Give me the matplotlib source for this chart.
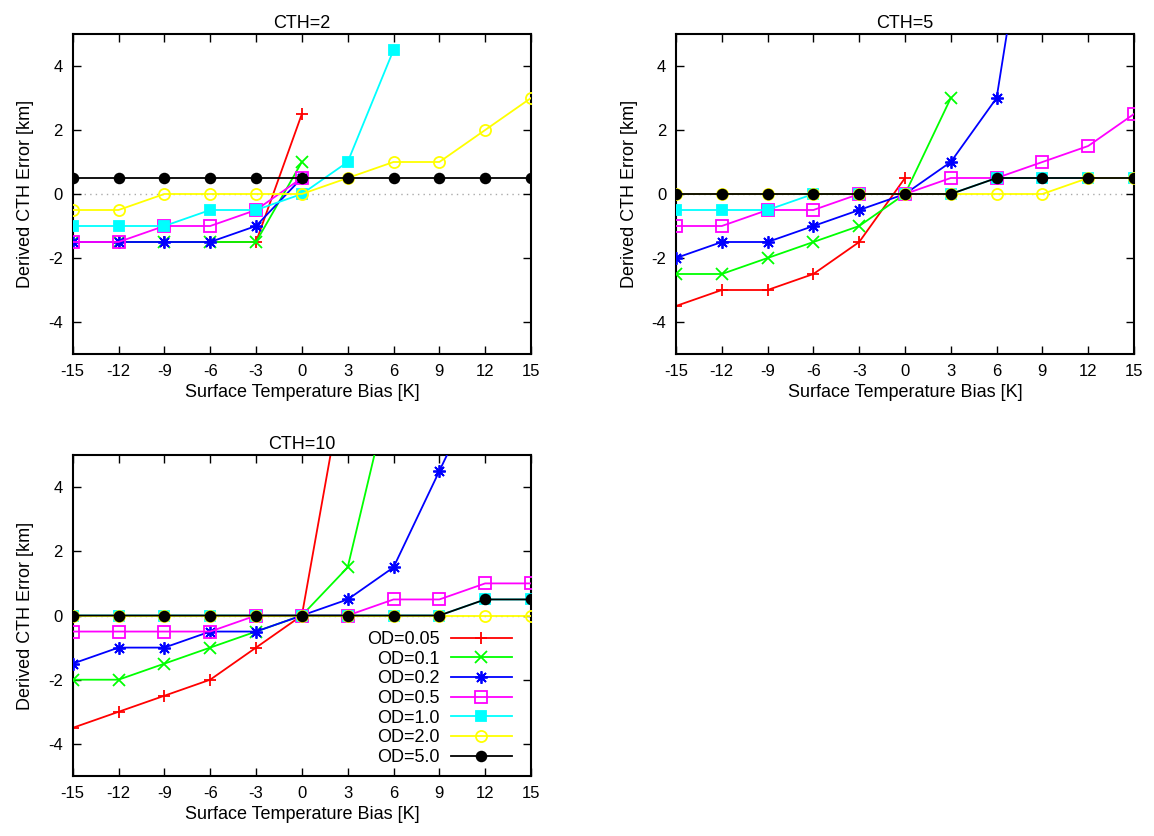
import numpy as np
import matplotlib
matplotlib.use("Agg")
import matplotlib.pyplot as plt

plt.rcParams['font.family'] = ['Liberation Sans', 'DejaVu Sans']
plt.rcParams['axes.unicode_minus'] = False

# ============================================
# DATA
# ============================================

bias = [-15, -12, -9, -6, -3, 0, 3, 6, 9, 12, 15]
xticks = [-15, -12, -9, -6, -3, 0, 3, 6, 9, 12, 15]
yticks = [-4, -2, 0, 2, 4]
labels = ['OD=0.05', 'OD=0.1', 'OD=0.2', 'OD=0.5', 'OD=1.0', 'OD=2.0', 'OD=5.0']
nan = np.nan

# CTH=2
cth2 = [
    [-1.5, -1.5, -1.5, -1.5, -1.5, 2.5, nan, nan, nan, nan, nan],
    [-1.5, -1.5, -1.5, -1.5, -1.5, 1.0, nan, nan, nan, nan, nan],
    [-1.5, -1.5, -1.5, -1.5, -1.0, 0.5, nan, nan, nan, nan, nan],
    [-1.5, -1.5, -1.0, -1.0, -0.5, 0.5, nan, nan, nan, nan, nan],
    [-1.0, -1.0, -1.0, -0.5, -0.5, 0.0, 1.0, 4.5, nan, nan, nan],
    [-0.5, -0.5, 0.0, 0.0, 0.0, 0.0, 0.5, 1.0, 1.0, 2.0, 3.0],
    [0.5, 0.5, 0.5, 0.5, 0.5, 0.5, 0.5, 0.5, 0.5, 0.5, 0.5],
]

# CTH=5
cth5 = [
    [-3.5, -3.0, -3.0, -2.5, -1.5, 0.5, nan, nan, nan, nan, nan],
    [-2.5, -2.5, -2.0, -1.5, -1.0, 0.0, 3.0, nan, nan, nan, nan],
    [-2.0, -1.5, -1.5, -1.0, -0.5, 0.0, 1.0, 3.0, 12.0, nan, nan],
    [-1.0, -1.0, -0.5, -0.5, 0.0, 0.0, 0.5, 0.5, 1.0, 1.5, 2.5],
    [-0.5, -0.5, -0.5, 0.0, 0.0, 0.0, 0.0, 0.5, 0.5, 0.5, 0.5],
    [0.0, 0.0, 0.0, 0.0, 0.0, 0.0, 0.0, 0.0, 0.0, 0.5, 0.5],
    [0.0, 0.0, 0.0, 0.0, 0.0, 0.0, 0.0, 0.5, 0.5, 0.5, 0.5],
]

# CTH=10
cth10 = [
    [-3.5, -3.0, -2.5, -2.0, -1.0, 0.0, 8.0, nan, nan, nan, nan],
    [-2.0, -2.0, -1.5, -1.0, -0.5, 0.0, 1.5, 7.5, nan, nan, nan],
    [-1.5, -1.0, -1.0, -0.5, -0.5, 0.0, 0.5, 1.5, 4.5, 7.5, nan],
    [-0.5, -0.5, -0.5, -0.5, 0.0, 0.0, 0.0, 0.5, 0.5, 1.0, 1.0],
    [0.0, 0.0, 0.0, 0.0, 0.0, 0.0, 0.0, 0.0, 0.0, 0.5, 0.5],
    [0.0, 0.0, 0.0, 0.0, 0.0, 0.0, 0.0, 0.0, 0.0, 0.0, 0.0],
    [0.0, 0.0, 0.0, 0.0, 0.0, 0.0, 0.0, 0.0, 0.0, 0.5, 0.5],
]

# ============================================
# STYLES
# ============================================

colors = ['#ff0000', '#00ff00', '#0000ff', '#ff00ff', '#00ffff', '#ffff00', '#000000']
markers = ['+', 'x', (8, 2, 0), 's', 's', 'o', 'o']
faces = ['#ff0000', '#00ff00', '#0000ff', 'none', '#00ffff', 'none', '#000000']
sizes = [9, 8, 9, 8, 7, 8, 7]

fig = plt.figure(figsize=(11.54, 8.36), dpi=100)
W, H = 1154.0, 836.0


def make_axes(left, top, right, bottom):
    return fig.add_axes([left / W, 1 - bottom / H, (right - left) / W, (bottom - top) / H])


def draw_panel(ax, data, title, legend=False):
    ax.axhline(0, color='#aaaaaa', lw=1, ls=(0, (1, 3)), zorder=1)
    for i, ys in enumerate(data):
        ax.plot(bias, ys, color=colors[i], marker=markers[i], markersize=sizes[i],
                markerfacecolor=faces[i], markeredgecolor=colors[i],
                markeredgewidth=1.3, lw=1.3, label=labels[i], zorder=2 + i)
    ax.set_xlim(-15, 15)
    ax.set_ylim(-5, 5)
    ax.set_xticks(xticks)
    ax.set_yticks(yticks)
    ax.tick_params(direction='in', top=True, right=True, length=6, width=1,
                   labelsize=12, pad=7)
    for s in ax.spines.values():
        s.set_linewidth(1.5)
    ax.set_title(title, fontsize=13, pad=4)
    ax.set_xlabel('Surface Temperature Bias [K]', fontsize=13, labelpad=4)
    ax.set_ylabel('Derived CTH Error [km]', fontsize=13, labelpad=10)
    if legend:
        ax.legend(loc='lower right', frameon=False, markerfirst=False, fontsize=13,
                  handlelength=3.4, labelspacing=0.15, handletextpad=0.6,
                  borderaxespad=0.15, bbox_to_anchor=(0.98, 0.0))


ax1 = make_axes(72.7, 34, 531, 354)
ax2 = make_axes(676, 34, 1134, 354)
ax3 = make_axes(72.7, 455, 531, 776)

draw_panel(ax1, cth2, 'CTH=2')
draw_panel(ax2, cth5, 'CTH=5')
draw_panel(ax3, cth10, 'CTH=10', legend=True)

fig.savefig('out.png', dpi=100)
